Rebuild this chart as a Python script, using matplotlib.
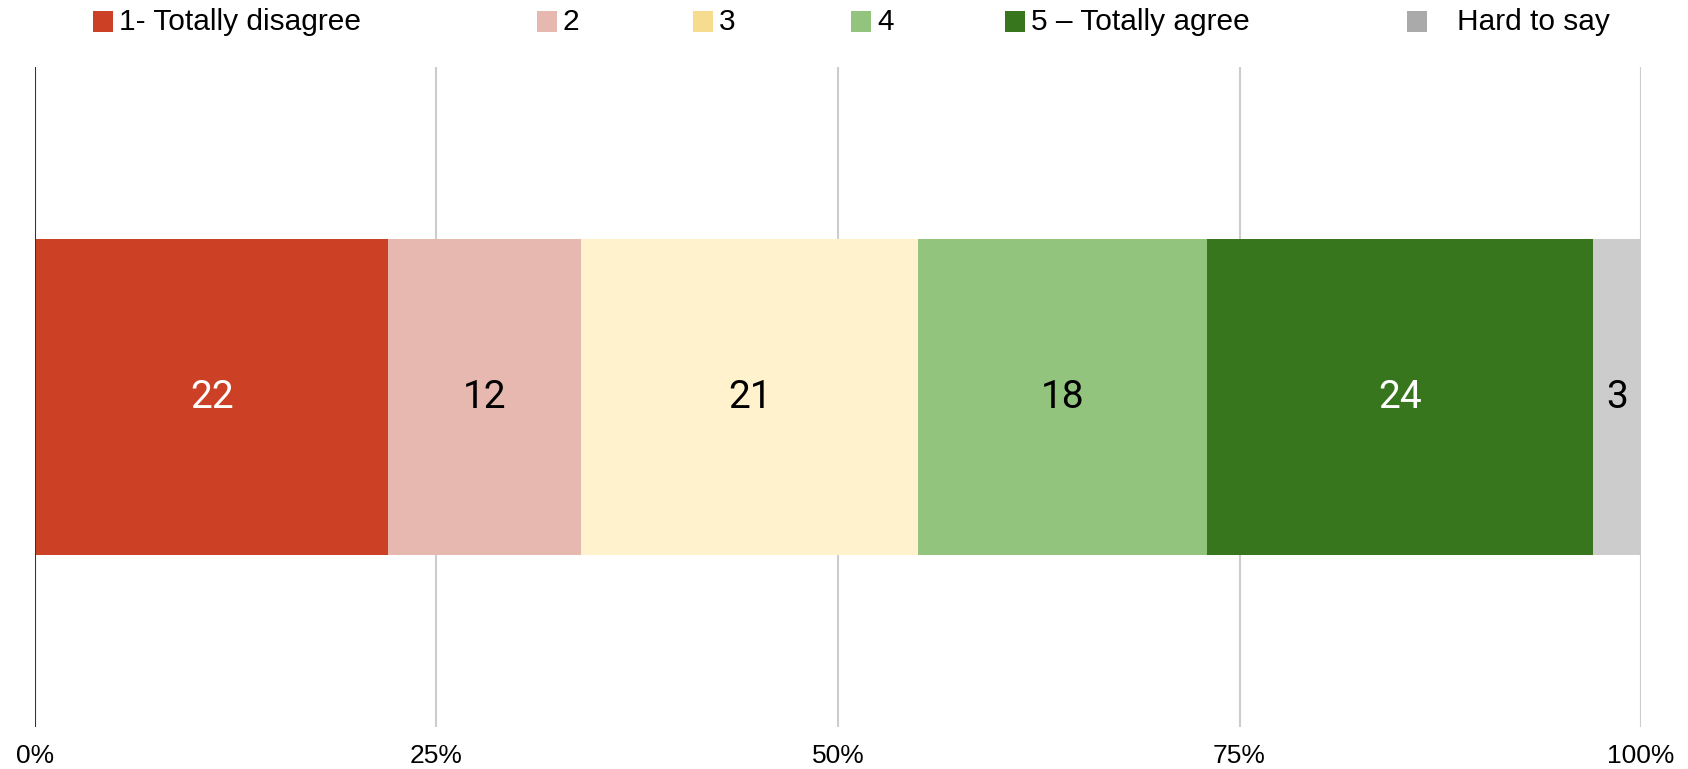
import matplotlib.pyplot as plt
from matplotlib.patches import Rectangle

categories = ['1- Totally disagree', '2', '3', '4', '5 – Totally agree', 'Hard to say']
values = [22, 12, 21, 18, 24, 3]
bar_colors = ['#cc4125', '#e6b8af', '#fff2cc', '#93c47d', '#38761d', '#cccccc']
legend_colors = ['#cc4125', '#e6b8af', '#f7dc8f', '#93c47d', '#38761d', '#aaaaaa']
label_colors = ['white', 'black', 'black', 'black', 'white', 'black']
ticks = [0, 25, 50, 75, 100]
tick_labels = ['0%', '25%', '50%', '75%', '100%']

# legend layout (figure pixels): square left edge, gap to text
legend_x = [93, 537, 693, 851, 1005, 1407]
legend_gap = [26, 26, 26, 26, 26, 50]

W, H = 1688, 769
fig = plt.figure(figsize=(W / 100, H / 100), dpi=100)
ax = fig.add_axes([35 / W, 1 - 727 / H, (1641 - 35) / W, (727 - 67) / H])

left = 0
for v, c, tc in zip(values, bar_colors, label_colors):
    ax.barh(0, v, left=left, height=0.48, color=c, zorder=3)
    ax.text(left + v / 2, 0, str(v), ha='center', va='center', fontsize=28,
            color=tc, family=['Roboto', 'DejaVu Sans'], zorder=4)
    left += v

ax.set_xlim(0, 100)
ax.set_ylim(-0.5, 0.5)
ax.set_xticks(ticks)
ax.set_xticklabels(tick_labels, fontsize=19, family=['Liberation Sans', 'DejaVu Sans'])
ax.set_yticks([])
ax.tick_params(axis='x', length=0, pad=12)
for s in ax.spines.values():
    s.set_visible(False)
for t in ticks[1:]:
    ax.axvline(t, color='#cccccc', lw=1.5, zorder=1)
ax.axvline(0, color='#333333', lw=1.5, zorder=5)

# legend
for x, g, name, c in zip(legend_x, legend_gap, categories, legend_colors):
    fig.add_artist(Rectangle((x / W, 1 - 32 / H), 20 / W, 21 / H,
                             transform=fig.transFigure, color=c, lw=0))
    fig.text((x + g) / W, 1 - 22 / H, name, ha='left', va='center', fontsize=21.5,
             family=['Liberation Sans', 'DejaVu Sans'], color='black')

plt.savefig('out.png', dpi=100)
